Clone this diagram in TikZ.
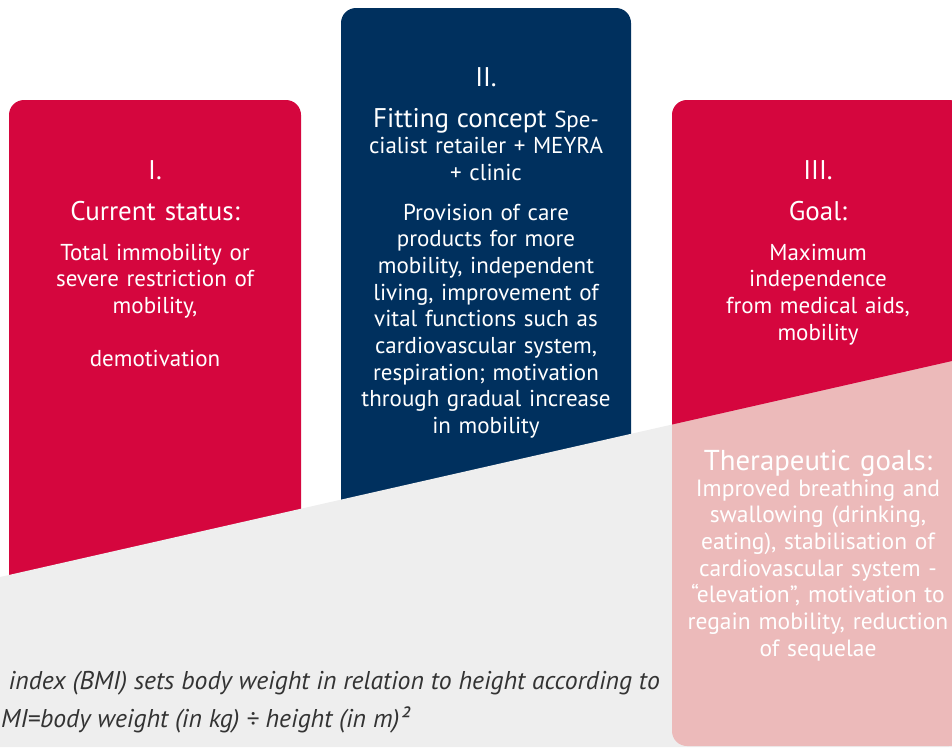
\documentclass[tikz,border=0pt]{standalone}
\usepackage{fontspec}
\setmainfont{PT Sans}

\definecolor{meyrared}{RGB}{213,6,62}
\definecolor{meyrablue}{RGB}{0,48,94}
\definecolor{meyrapink}{RGB}{236,186,186}
\definecolor{floorgrey}{RGB}{238,238,238}
\definecolor{notegrey}{RGB}{51,51,51}

\begin{document}
\begin{tikzpicture}[x=1pt, y=-1pt]
    \tikzstyle{every node} = [text=white, inner sep=0pt, anchor=base]
    \tikzstyle{card} = [rounded corners=15pt]
    \tikzstyle{numeral} = [text width=280pt, align=center, font=\fontsize{27}{30}\selectfont]
    \tikzstyle{heading} = [text width=280pt, align=center, font=\fontsize{27}{30}\selectfont]
    \tikzstyle{body} = [text width=280pt, align=center, font=\fontsize{23}{26.7}\selectfont]
    \tikzstyle{note} = [text=notegrey, font=\itshape\fontsize{25.7}{30}\selectfont]

    \useasboundingbox (0,0) rectangle (952,747);
    \clip (0,0) rectangle (952,747);

    % the three cards
    \fill [card, meyrared] (9,100) rectangle (301,640);
    \fill [card, meyrablue] (341,8) rectangle (631,600);

    % grey floor with the slope
    \fill [floorgrey] (0,577) -- (952,361) -- (952,747) -- (0,747) -- cycle;

    \fill [card, meyrapink] (672,100) rectangle (964,746);
    \begin{scope}
        \clip (0,0) -- (952,0) -- (952,361) -- (0,577) -- cycle;
        \fill [card, meyrared] (672,100) rectangle (964,746);
    \end{scope}

    % I.
    \node (n1) [numeral] at (155,179) {I.};
    \node (h1) [heading] at (155,220) {Current status:};
    \node (b1) [body] at (155,260) {Total immobility or\\ severe restriction of\\ mobility,\\[26.7pt] demotivation};

    % II.
    \node (n2) [numeral] at (486,86) {II.};
    \node (h2) [body] at (486,127) {{\fontsize{27}{30}\selectfont Fitting concept} Spe-\\ cialist retailer + MEYRA\\ + clinic};
    \node (b2) [body] at (486,220) {Provision of care\\ products for more\\ mobility, independent\\ living, improvement of\\ vital functions such as\\ cardiovascular system,\\ respiration; motivation\\ through gradual increase\\ in mobility};

    % III.
    \node (n3) [numeral] at (818,179) {III.};
    \node (h3) [heading] at (818,220) {Goal:};
    \node (b3) [body] at (818,260) {Maximum\\ independence\\ from medical aids,\\ mobility};

    \node (h4) [heading, font=\fontsize{28.8}{30}\selectfont] at (818,470) {Therapeutic goals:};
    \node (b4) [body, font=\fontsize{23.5}{26.7}\selectfont] at (818,496) {Improved breathing and\\ swallowing (drinking,\\ eating), stabilisation of\\ cardiovascular system -\\ “elevation”, motivation to\\ regain mobility, reduction\\ of sequelae};

    % footnote on the floor
    \node (bmi1) [note, anchor=base east] at (660,689) {index (BMI) sets body weight in relation to height according to};
    \node (bmi2) [note, anchor=base west] at (1,727) {MI=body weight (in kg) ÷ height (in m)²};
\end{tikzpicture}
\end{document}
